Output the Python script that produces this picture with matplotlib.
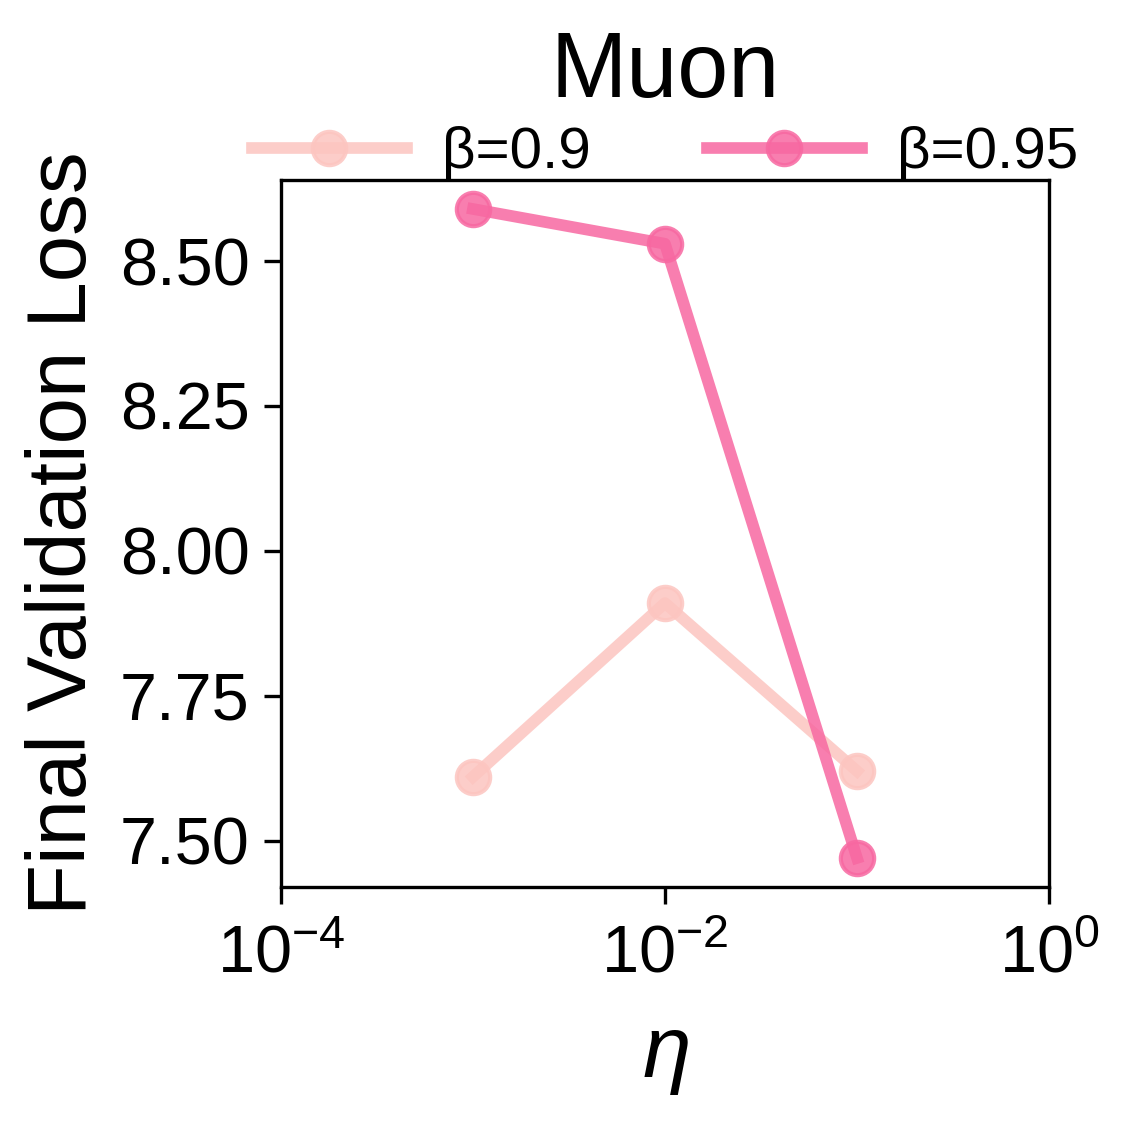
import numpy as np
import matplotlib
matplotlib.use("Agg")
import matplotlib.pyplot as plt

plt.rcParams['font.family'] = ['Liberation Sans', 'DejaVu Sans']
plt.rcParams['mathtext.fontset'] = 'custom'
plt.rcParams['mathtext.rm'] = 'Liberation Sans'
plt.rcParams['mathtext.it'] = 'Liberation Sans:italic'

# data
lrs = [1e-3, 1e-2, 1e-1]
loss_b090 = [7.61, 7.91, 7.62]
loss_b095 = [8.59, 8.53, 7.47]
labels = ["β=0.9", "β=0.95"]
colors = ["#fcc5c0", "#f768a1"]

fig = plt.figure(figsize=(1128/300, 1125/300), dpi=300)
ax = fig.add_axes([0.249, 0.2116, 0.681, 0.6284])

for ys, lab, c in zip([loss_b090, loss_b095], labels, colors):
    ax.plot(lrs, ys, marker='o', color=c, lw=2.8, markersize=8, alpha=0.85, label=lab)

ax.set_xscale('log')
ax.set_xlim(1e-4, 1e0)
ax.set_xticks([1e-4, 1e-2, 1e0])
ax.minorticks_off()
ax.set_ylim(7.42, 8.64)
ax.set_yticks([7.50, 7.75, 8.00, 8.25, 8.50])
ax.set_yticklabels(["7.50", "7.75", "8.00", "8.25", "8.50"])
ax.tick_params(labelsize=16, width=0.8, length=4)
ax.tick_params(axis='x', pad=5)
for sp in ax.spines.values():
    sp.set_linewidth(0.8)

ax.set_xlabel(r"$\eta$", fontsize=21, labelpad=7)
ax.set_ylabel("Final Validation Loss", fontsize=20, labelpad=4)
ax.set_title("Muon", fontsize=22, pad=20)

ax.legend(loc='lower center', bbox_to_anchor=(0.5, 1.0), ncol=2, frameon=False,
          fontsize=14, handlelength=2.65, handletextpad=0.6, columnspacing=2.0,
          borderaxespad=0, borderpad=0)

fig.savefig("out.png", dpi=300)
